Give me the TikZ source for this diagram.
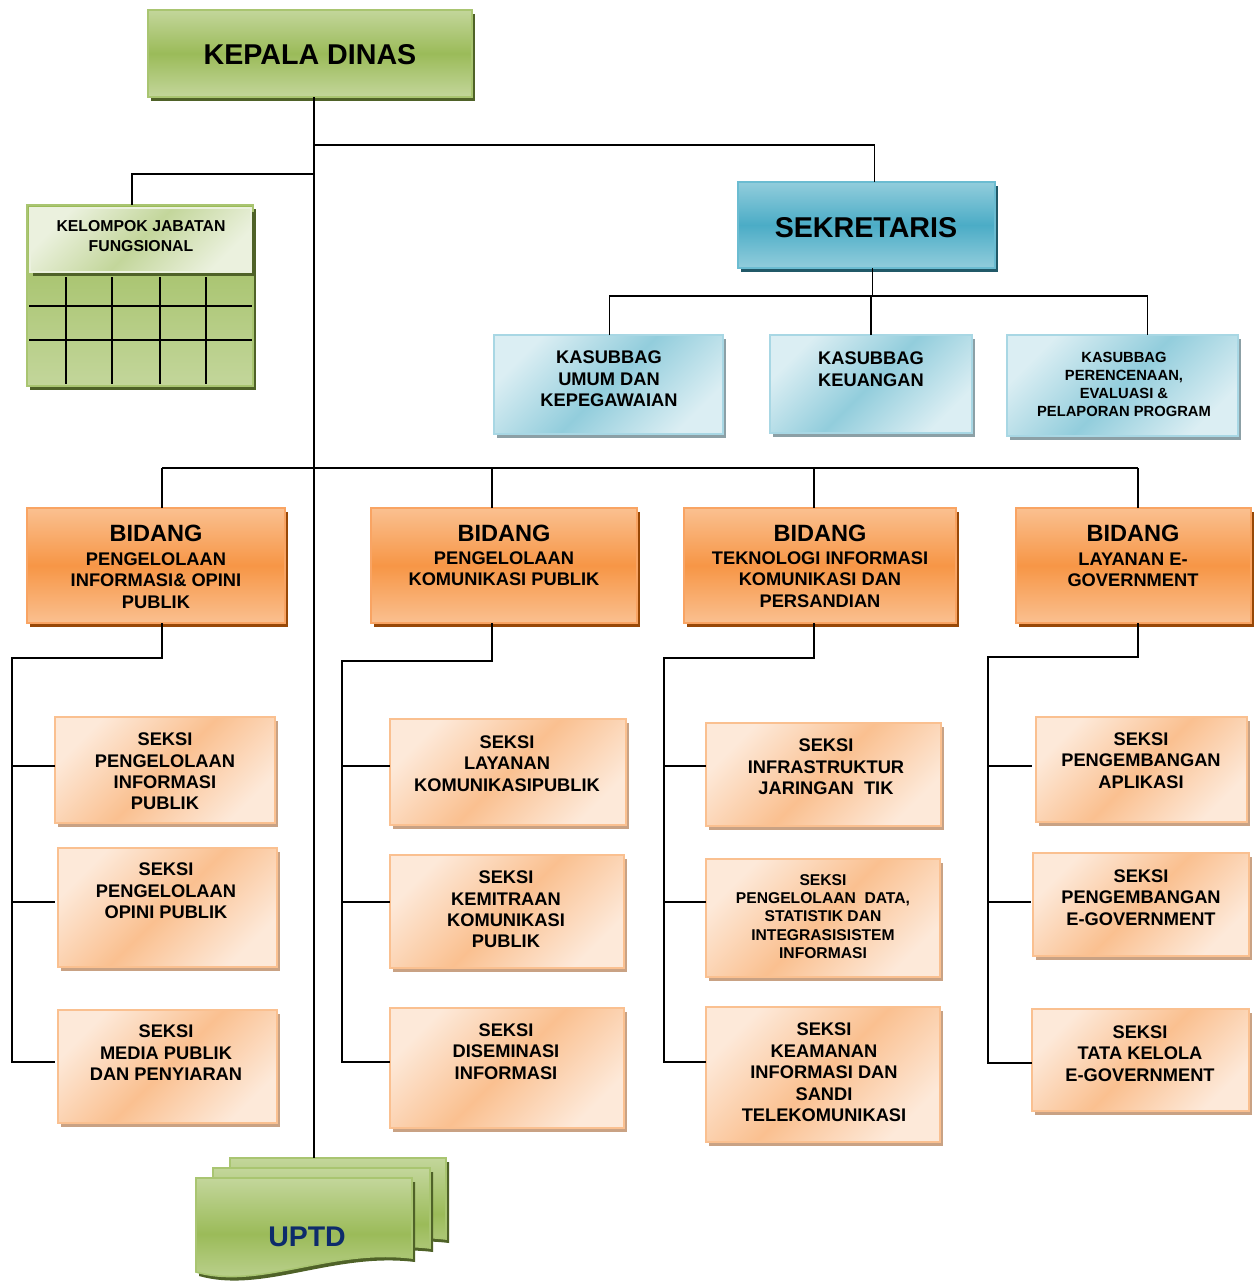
\documentclass[tikz,border=0pt]{standalone}
\usepackage{fontspec}
\setmainfont{Liberation Sans}
\usetikzlibrary{calc}
\definecolor{gLight}{HTML}{C3D69B}
\definecolor{gMid}{HTML}{9BBB59}
\definecolor{gBord}{HTML}{A9C571}
\definecolor{gShad}{HTML}{4F6228}
\definecolor{gPale}{HTML}{EBF1DE}
\definecolor{bLight}{HTML}{92CDDC}
\definecolor{bMid}{HTML}{4BACC6}
\definecolor{bBord}{HTML}{6BBCD1}
\definecolor{bShad}{HTML}{215968}
\definecolor{kPale}{HTML}{DBEEF3}
\definecolor{kBord}{HTML}{A8D7E4}
\definecolor{kShad}{HTML}{8CA0A6}
\definecolor{oLight}{HTML}{FAC090}
\definecolor{oMid}{HTML}{F79646}
\definecolor{oBord}{HTML}{F9A463}
\definecolor{oShad}{HTML}{984807}
\definecolor{sPale}{HTML}{FDE9D9}
\definecolor{sBord}{HTML}{FAC090}
\definecolor{sShad}{HTML}{C9A284}
\definecolor{navy}{HTML}{0D2B6B}
% #1 style, #2 shadow colour, #3 name, #4 x1, #5 y1, #6 x2, #7 y2
\newcommand{\obox}[7]{%
  \fill[#2] ({#4+3},{#5+4}) rectangle ({#6+3},{#7+4});
  \node[#1, minimum width={(#6-#4)*0.02cm}, minimum height={(#7-#5)*0.02cm}] (#3) at ({(#4+#6)/2},{(#5+#7)/2}) {};
}
% x1, y1, x2, yRight, yLeft
\newcommand{\uptdpage}[5]{%
  \fill[gShad] ({#1+3},{#2+4}) -- ({#3+3},{#2+4}) -- ({#3+3},{#4+4}) .. controls ({#3-82+3},{#4-10+4}) and ({#1+64+3},{#5+18+4}) .. ({#1+3},{#5+4}) -- cycle;
  \shade[top color=gLight, bottom color=gLight, middle color=gMid, draw=gBord, line width=0.9pt] (#1,#2) -- (#3,#2) -- (#3,#4) .. controls ({#3-82},{#4-10}) and ({#1+64},{#5+18}) .. (#1,#5) -- cycle;
}
\begin{document}
\begin{tikzpicture}[x=0.02cm, y=-0.02cm,
  base/.style={inner sep=0pt, outer sep=0pt, line width=0.9pt},
  greenbox/.style={base, draw=gBord, top color=gLight, bottom color=gLight, middle color=gMid},
  bluebox/.style={base, draw=bBord, top color=bLight, bottom color=bLight, middle color=bMid},
  kasbox/.style={base, draw=kBord, top color=kPale, bottom color=kPale, middle color=bLight, shading angle=45},
  bidbox/.style={base, draw=oBord, top color=oLight, bottom color=oLight, middle color=oMid},
  seksibox/.style={base, draw=sBord, top color=sPale, bottom color=sPale, middle color=oLight, shading angle=45},
  hdrbox/.style={base, draw=gPale, top color=gPale, bottom color=gPale, middle color=gLight, shading angle=45},
  gridbox/.style={base, draw=gBord, top color=gMid, bottom color=gLight},
  link/.style={draw=black, line width=1.1pt},
  gridline/.style={draw=black, line width=1.1pt},
  fbig/.style={font=\fontsize{16.3}{19}\selectfont\bfseries, inner sep=0pt},
  fbid/.style={font=\fontsize{13.4}{16}\selectfont\bfseries, inner sep=0pt},
  fn/.style={font=\fontsize{10.4}{12.2}\selectfont\bfseries, align=center, inner sep=0pt},
  fkel/.style={font=\fontsize{9}{11.3}\selectfont\bfseries, align=center, inner sep=0pt},
  fsm/.style={font=\fontsize{8.4}{10.4}\selectfont\bfseries, align=center, inner sep=0pt},
  fdat/.style={font=\fontsize{8.9}{10.35}\selectfont\bfseries, align=center, inner sep=0pt},
  fuptd/.style={font=\fontsize{16.2}{19}\selectfont\bfseries, text=navy, inner sep=0pt}]
\useasboundingbox (0,0) rectangle (1259,1282);

% ---------- boxes ----------
\obox{greenbox}{gShad}{kd}{148}{10}{472}{97}
\node[fbig] (kdt) at (310,55) {KEPALA DINAS};

\obox{bluebox}{bShad}{sek}{738}{182}{995}{268}
\node[fbig] (sekt) at (866,228) {SEKRETARIS};

\obox{gridbox}{gShad}{kjf}{27}{205}{253}{386}
\obox{hdrbox}{gShad}{kjh}{30}{208}{251}{272}
\node[fkel] (kjt) at (141,236) {KELOMPOK JABATAN\\FUNGSIONAL};
\foreach \gx in {66,112,160,206} \draw[gridline] (\gx,277) -- (\gx,384);
\foreach \gy in {306,340} \draw[gridline] (29,\gy) -- (252,\gy);

\obox{kasbox}{kShad}{k1}{494}{335}{723}{434}
\node[fn] (k1t) at (609,379) {KASUBBAG\\UMUM DAN\\KEPEGAWAIAN};
\obox{kasbox}{kShad}{k2}{770}{335}{972}{433}
\node[fn] (k2t) at (871,369) {KASUBBAG\\KEUANGAN};
\obox{kasbox}{kShad}{k3}{1007}{335}{1238}{436}
\node[fsm] (k3t) at (1124,384.5) {KASUBBAG\\PERENCENAAN,\\EVALUASI \&\\PELAPORAN PROGRAM};

\obox{bidbox}{oShad}{b1}{27}{508}{285}{623}
\node[fbid] (b1h) at (156,533.5) {BIDANG};
\node[fn] (b1t) at (156,580.5) {PENGELOLAAN\\INFORMASI\& OPINI\\PUBLIK};
\obox{bidbox}{oShad}{b2}{371}{508}{637}{623}
\node[fbid] (b2h) at (504,533.5) {BIDANG};
\node[fn] (b2t) at (504,568.5) {PENGELOLAAN\\KOMUNIKASI PUBLIK};
\obox{bidbox}{oShad}{b3}{684}{508}{956}{623}
\node[fbid] (b3h) at (820,533.5) {BIDANG};
\node[fn] (b3t) at (820,579.5) {TEKNOLOGI INFORMASI\\KOMUNIKASI DAN\\PERSANDIAN};
\obox{bidbox}{oShad}{b4}{1016}{508}{1251}{623}
\node[fbid] (b4h) at (1133,533.5) {BIDANG};
\node[fn] (b4t) at (1133,570) {LAYANAN E-\\GOVERNMENT};

\obox{seksibox}{sShad}{s11}{55}{717}{275}{823}
\node[fn] (s11t) at (165,771.5) {SEKSI\\PENGELOLAAN\\INFORMASI\\PUBLIK};
\obox{seksibox}{sShad}{s12}{58}{848}{277}{967}
\node[fn] (s12t) at (166,891) {SEKSI\\PENGELOLAAN\\OPINI PUBLIK};
\obox{seksibox}{sShad}{s13}{58}{1010}{277}{1123}
\node[fn] (s13t) at (166,1053) {SEKSI\\MEDIA PUBLIK\\DAN PENYIARAN};

\obox{seksibox}{sShad}{s21}{390}{719}{626}{825}
\node[fn] (s21t) at (507,763.5) {SEKSI\\LAYANAN\\KOMUNIKASIPUBLIK};
\obox{seksibox}{sShad}{s22}{390}{855}{624}{968}
\node[fn] (s22t) at (506,909.5) {SEKSI\\KEMITRAAN\\KOMUNIKASI\\PUBLIK};
\obox{seksibox}{sShad}{s23}{390}{1008}{624}{1128}
\node[fn] (s23t) at (506,1051.5) {SEKSI\\DISEMINASI\\INFORMASI};

\obox{seksibox}{sShad}{s31}{706}{723}{941}{826}
\node[fn] (s31t) at (826,767) {SEKSI\\INFRASTRUKTUR\\JARINGAN\ \ TIK};
\obox{seksibox}{sShad}{s32}{706}{859}{940}{977}
\node[fdat] (s32t) at (823,916.5) {SEKSI\\PENGELOLAAN\ \ DATA,\\STATISTIK DAN\\INTEGRASISISTEM\\INFORMASI};
\obox{seksibox}{sShad}{s33}{706}{1007}{940}{1142}
\node[fn] (s33t) at (824,1072.5) {SEKSI\\KEAMANAN\\INFORMASI DAN\\SANDI\\TELEKOMUNIKASI};

\obox{seksibox}{sShad}{s41}{1036}{717}{1247}{822}
\node[fn] (s41t) at (1141,760.5) {SEKSI\\PENGEMBANGAN\\APLIKASI};
\obox{seksibox}{sShad}{s42}{1033}{853}{1249}{956}
\node[fn] (s42t) at (1141,897.5) {SEKSI\\PENGEMBANGAN\\E-GOVERNMENT};
\obox{seksibox}{sShad}{s43}{1032}{1009}{1249}{1111}
\node[fn] (s43t) at (1140,1053.5) {SEKSI\\TATA KELOLA\\E-GOVERNMENT};

% ---------- UPTD ----------
\uptdpage{230}{1158}{446}{1239}{1252}
\uptdpage{213}{1168}{430}{1248}{1262}
\uptdpage{196}{1178}{412}{1258}{1272}
\node[fuptd] (uptd) at (307,1236.5) {UPTD};
\coordinate (uptdTop) at (314,1158);

% ---------- connectors ----------
\coordinate (spine) at ($(kd.south)+(4,0)$);
\coordinate (jS) at ($(spine)+(0,48)$);
\coordinate (jK) at ($(spine)+(0,77)$);
\coordinate (sekIn) at ($(sek.north)+(8,0)$);
\coordinate (kjIn) at ($(kjf.north)+(-8,0)$);
\draw[link] (spine) -- (spine |- uptdTop);
\draw[link] (jS) -| (sekIn);
\draw[link] (jK) -| (kjIn);

\coordinate (sekOut) at ($(sek.south)+(6,0)$);
\coordinate (kbus) at ($(sekOut)+(0,28)$);
\coordinate (k1In) at ($(k1.north)+(1,0)$);
\coordinate (k3In) at ($(k3.north)+(25,0)$);
\draw[link] (sekOut) -- (kbus);
\draw[link] (k1In) |- (kbus) -| (k3In);
\draw[link] (kbus -| k2.north) -- (k2.north);

\coordinate (bbus) at ($(spine)+(0,371)$);
\coordinate (b1In) at ($(b1.north)+(6,0)$);
\coordinate (b2In) at ($(b2.north)+(-12,0)$);
\coordinate (b3In) at ($(b3.north)+(-6,0)$);
\coordinate (b4In) at ($(b4.north)+(4.5,0)$);
\draw[link] (b1In |- bbus) -- (b4In |- bbus);
\foreach \b in {b1In,b2In,b3In,b4In} \draw[link] (\b |- bbus) -- (\b);

\coordinate (b1Out) at ($(b1.south)+(6,0)$);
\coordinate (b2Out) at ($(b2.south)+(-12,0)$);
\coordinate (b3Out) at ($(b3.south)+(-6,0)$);
\coordinate (b4Out) at ($(b4.south)+(4.5,0)$);
\coordinate (c1) at (12,658);
\coordinate (c2) at (342,661);
\coordinate (c3) at (664,658);
\coordinate (c4) at (988,657);

\coordinate (s11b) at ($(s11.west)+(0,-4)$);
\coordinate (s12b) at ($(s12.west)+(-3,-5.5)$);
\coordinate (s13b) at ($(s13.west)+(-3,-4.5)$);
\coordinate (s21b) at ($(s21.west)+(0,-6)$);
\coordinate (s22b) at ($(s22.west)+(0,-9.5)$);
\coordinate (s23b) at ($(s23.west)+(0,-6)$);
\coordinate (s31b) at ($(s31.west)+(0,-8.5)$);
\coordinate (s32b) at ($(s32.west)+(0,-16)$);
\coordinate (s33b) at ($(s33.west)+(0,-12.5)$);
\coordinate (s41b) at ($(s41.west)+(-4,-3.5)$);
\coordinate (s42b) at ($(s42.west)+(-2,-2.5)$);
\coordinate (s43b) at ($(s43.west)+(0,3)$);

\draw[link] (b1Out) |- (c1) -- (c1 |- s13b) -- (s13b);
\draw[link] (c1 |- s11b) -- (s11b);
\draw[link] (c1 |- s12b) -- (s12b);
\draw[link] (b2Out) |- (c2) -- (c2 |- s23b) -- (s23b);
\draw[link] (c2 |- s21b) -- (s21b);
\draw[link] (c2 |- s22b) -- (s22b);
\draw[link] (b3Out) |- (c3) -- (c3 |- s33b) -- (s33b);
\draw[link] (c3 |- s31b) -- (s31b);
\draw[link] (c3 |- s32b) -- (s32b);
\draw[link] (b4Out) |- (c4) -- (c4 |- s43b) -- (s43b);
\draw[link] (c4 |- s41b) -- (s41b);
\draw[link] (c4 |- s42b) -- (s42b);
\end{tikzpicture}
\end{document}
